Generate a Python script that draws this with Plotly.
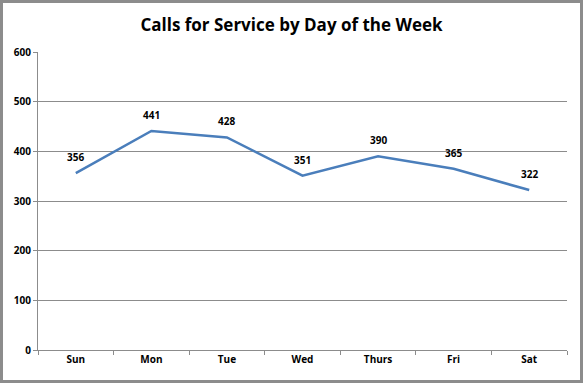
import plotly.graph_objects as go

days = ["Sun", "Mon", "Tue", "Wed", "Thurs", "Fri", "Sat"]
calls = [356, 441, 428, 351, 390, 365, 322]
y_ticks = [0, 100, 200, 300, 400, 500, 600]

W, H = 583, 383
L, R, T, B = 38, 16, 52, 33
pw, ph = W - L - R, H - T - B

fig = go.Figure()
fig.add_trace(go.Scatter(
    x=days, y=calls, mode="lines",
    line=dict(color="#4A7EBB", width=2.5),
    hoverinfo="skip",
))
for d, v in zip(days, calls):
    fig.add_annotation(x=d, y=v, text=str(v), showarrow=False,
                       yshift=16, xshift=0,
                       font=dict(family="Open Sans", size=10, color="#000000", weight="bold"))

def px2x(p):
    return (p - L) / pw

def py2y(p):
    return (H - B - p) / ph

fig.add_shape(type="rect", xref="paper", yref="paper",
              x0=px2x(1.5), x1=px2x(W - 1.5), y0=py2y(H - 1.5), y1=py2y(1.5),
              line=dict(color="#8c8c8c", width=3), layer="below")

tf = dict(family="Open Sans", size=10, color="#000000", weight="bold")
fig.update_layout(
    width=W, height=H,
    margin=dict(l=L, r=R, t=T, b=B),
    paper_bgcolor="white", plot_bgcolor="white",
    showlegend=False,
    title=dict(text="<b>Calls for Service by Day of the Week</b>",
               x=0.5, xanchor="center", y=1 - 25 / H, yanchor="middle",
               font=dict(family="Open Sans", size=17, color="#000000")),
    xaxis=dict(type="category", showgrid=False, showline=True,
               linecolor="#8c8c8c", linewidth=1, ticks="outside", ticklen=4,
               tickcolor="#8c8c8c", tickson="boundaries",
               tickfont=tf, range=[-0.5, 6.5], fixedrange=True),
    yaxis=dict(range=[0, 600], tickvals=y_ticks, showgrid=True,
               gridcolor="#8c8c8c", gridwidth=1, showline=True,
               linecolor="#8c8c8c", ticks="outside", ticklen=4,
               tickcolor="#8c8c8c", zeroline=False,
               tickfont=tf, fixedrange=True),
)

fig.write_html("out.html", config={"displayModeBar": False},
               post_script="document.body.style.margin='0';document.body.style.overflow='hidden';")
